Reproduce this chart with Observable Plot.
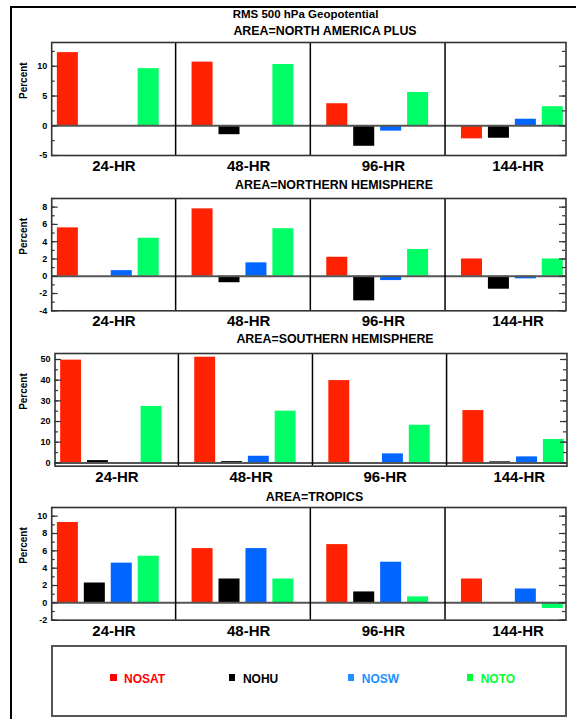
<!DOCTYPE html>
<html><head><meta charset="utf-8">
<script src="https://cdn.jsdelivr.net/npm/d3@7"></script>
<script src="https://cdn.jsdelivr.net/npm/@observablehq/plot@0.6"></script>
<style>
html,body{margin:0;padding:0;background:#fff;}
#root{position:relative;width:576px;height:719px;overflow:hidden;font-family:"Liberation Sans",Arial,Helvetica,sans-serif;}
.title{position:absolute;white-space:nowrap;font-weight:bold;color:#000;height:14px;line-height:14px;transform:translateX(-50%);}
.panel{position:absolute;left:0;}
</style></head><body><div id="root"></div>
<script>
// ---------- data ----------
const experiments = ["NOSAT", "NOHU", "NOSW", "NOTO"];
const hours = ["24-HR", "48-HR", "96-HR", "144-HR"];
const barColors = ["#ff2200", "#000000", "#0066ff", "#00ff66"];
const legendColors = ["#ff0000", "#000000", "#1e90ff", "#00ff33"];
const mainTitle = "RMS 500 hPa Geopotential";
const areaNames = ["NORTH AMERICA PLUS", "NORTHERN HEMISPHERE", "SOUTHERN HEMISPHERE", "TROPICS"];
const yLabel = "Percent";

// AREA=NORTH AMERICA PLUS (values by hour)
const naNOSAT = [12.3, 10.7, 3.7, -2.2];
const naNOHU  = [0, -1.5, -3.45, -2.1];
const naNOSW  = [0, 0, -0.9, 1.1];
const naNOTO  = [9.6, 10.3, 5.6, 3.2];
// AREA=NORTHERN HEMISPHERE
const nhNOSAT = [5.6, 7.8, 2.2, 2.0];
const nhNOHU  = [0, -0.75, -2.85, -1.5];
const nhNOSW  = [0.65, 1.55, -0.5, -0.3];
const nhNOTO  = [4.4, 5.5, 3.1, 2.0];
// AREA=SOUTHERN HEMISPHERE
const shNOSAT = [49.7, 51.1, 39.8, 25.3];
const shNOHU  = [1.1, 0.6, -0.3, 0.5];
const shNOSW  = [0, 3.2, 4.35, 2.9];
const shNOTO  = [27.3, 25.0, 18.2, 11.3];
// AREA=TROPICS
const trNOSAT = [9.27, 6.26, 6.72, 2.75];
const trNOHU  = [2.29, 2.75, 1.26, 0];
const trNOSW  = [4.58, 6.26, 4.69, 1.6];
const trNOTO  = [5.38, 2.75, 0.69, -0.65];

// y-axis tick labels per panel
const naTicks = [-5, 0, 5, 10];
const nhTicks = [-4, -2, 0, 2, 4, 6, 8];
const shTicks = [0, 10, 20, 30, 40, 50];
const trTicks = [-2, 0, 2, 4, 6, 8, 10];

// ---------- layout ----------
const W = 576;
const GROUP = 5;          // 4 bars + 1 gap slot per forecast hour
const BAR_W = 0.78;
const X_DOMAIN = [-0.21, 18.88];
const MT = 4, MB = 28;
const FONT = '"Liberation Sans", Arial, Helvetica, sans-serif';

const panels = [
  {series: [naNOSAT, naNOHU, naNOSW, naNOTO], ticks: naTicks, minorStep: 2.5, domain: [-5, 14],
   L: 51.2, R: 565.5, T: 42.3, B: 155.3, titleY: 31, titleX: 325},
  {series: [nhNOSAT, nhNOHU, nhNOSW, nhNOTO], ticks: nhTicks, minorStep: 1, domain: [-4, 9],
   L: 51.2, R: 565.5, T: 197.7, B: 310, titleY: 185, titleX: 334},
  {series: [shNOSAT, shNOHU, shNOSW, shNOTO], ticks: shTicks, minorStep: 5, domain: [-1.6, 52.9],
   L: 54.5, R: 566.5, T: 353.3, B: 466, titleY: 339.3, titleX: 335},
  {series: [trNOSAT, trNOHU, trNOSW, trNOTO], ticks: trTicks, minorStep: 1, domain: [-2, 11],
   L: 51.2, R: 565.5, T: 507.3, B: 620, titleY: 497.3, titleX: 314.5}
];

const root = document.getElementById("root");

// outer frame (top + left visible)
const outer = document.createElement("div");
Object.assign(outer.style, {position: "absolute", left: "10px", top: "6px", width: "600px", height: "760px",
  borderLeft: "2.5px solid #000", borderTop: "2.5px solid #000"});
root.appendChild(outer);

function addTitle(text, cx, cy, size) {
  const d = document.createElement("div");
  d.className = "title";
  d.textContent = text;
  d.style.left = cx + "px";
  d.style.top = (cy - 7) + "px";
  d.style.fontSize = size + "px";
  root.appendChild(d);
}
addTitle(mainTitle, 305.5, 14.3, 11.5);

panels.forEach((p, pi) => {
  addTitle("AREA=" + areaNames[pi], p.titleX, p.titleY, 12.4);
  const data = [];
  experiments.forEach((exp, e) => hours.forEach((h, g) => data.push({exp, e, g, value: p.series[e][g]})));
  const innerW = p.R - p.L;
  const minor = d3.range(p.domain[0] < 0 ? Math.ceil(p.domain[0] / p.minorStep) * p.minorStep : 0,
                         p.domain[1] + 1e-9, p.minorStep);
  const chart = Plot.plot({
    width: W,
    height: p.B - p.T + MT + MB,
    marginLeft: p.L, marginRight: W - p.R, marginTop: MT, marginBottom: MB,
    x: {type: "linear", domain: X_DOMAIN, axis: null},
    y: {domain: p.domain, axis: null},
    color: {domain: experiments, range: barColors},
    style: {fontFamily: FONT, background: "transparent", overflow: "visible", color: "#000"},
    marks: [
      Plot.rect(data, {x1: d => d.g * GROUP + d.e, x2: d => d.g * GROUP + d.e + BAR_W,
                       y1: 0, y2: "value", fill: "exp"}),
      Plot.ruleY([0], {stroke: "#555", strokeWidth: 2}),
      Plot.ruleX(hours.slice(1), {x: (d, i) => (i + 1) * GROUP - 0.61, stroke: "#000", strokeWidth: 1.5}),
      Plot.tickY(minor, {y: d => d, stroke: "#333", strokeWidth: 1.2, insetRight: innerW - 3.5}),
      Plot.tickY(minor, {y: d => d, stroke: "#333", strokeWidth: 1.2, insetLeft: innerW - 3.5}),
      Plot.tickY(p.ticks, {y: d => d, stroke: "#333", strokeWidth: 1.2, insetRight: innerW - 6.5}),
      Plot.tickY(p.ticks, {y: d => d, stroke: "#333", strokeWidth: 1.2, insetLeft: innerW - 6.5}),
      Plot.frame({stroke: "#333", strokeWidth: 1.6}),
      Plot.text(p.ticks, {y: d => d, frameAnchor: "left", textAnchor: "end", dx: -4.5,
                          text: d => String(d), fontSize: 9, fontWeight: "bold", fill: "#000"}),
      Plot.text([yLabel], {frameAnchor: "left", rotate: -90, dx: -(p.L - 23), text: d => d,
                           fontSize: 10, fontWeight: "bold", fill: "#000"}),
      Plot.text(hours, {x: (d, i) => i * GROUP + 2.1, frameAnchor: "bottom", dy: 15.5, text: d => d,
                        fontSize: 15, fontWeight: "bold", fill: "#000"})
    ]
  });
  const wrap = document.createElement("div");
  wrap.className = "panel";
  wrap.style.top = (p.T - MT) + "px";
  wrap.appendChild(chart);
  root.appendChild(wrap);
});

// legend box
const legend = document.createElement("div");
Object.assign(legend.style, {position: "absolute", left: "50.5px", top: "645px", width: "516px", height: "72px",
  boxSizing: "border-box", border: "2px solid #555"});
root.appendChild(legend);
experiments.forEach((exp, i) => {
  const item = document.createElement("div");
  Object.assign(item.style, {position: "absolute", left: (110 + i * 118.9) + "px", top: "672px", height: "14px",
    display: "flex", alignItems: "center", whiteSpace: "nowrap"});
  const sq = document.createElement("span");
  Object.assign(sq.style, {display: "inline-block", width: "6.5px", height: "6.5px", background: legendColors[i],
    marginRight: "7.5px", position: "relative", top: "-1.5px"});
  const t = document.createElement("span");
  t.textContent = exp;
  Object.assign(t.style, {color: legendColors[i], fontWeight: "bold", fontSize: "12px", lineHeight: "14px"});
  item.appendChild(sq); item.appendChild(t);
  root.appendChild(item);
});
</script></body></html>
